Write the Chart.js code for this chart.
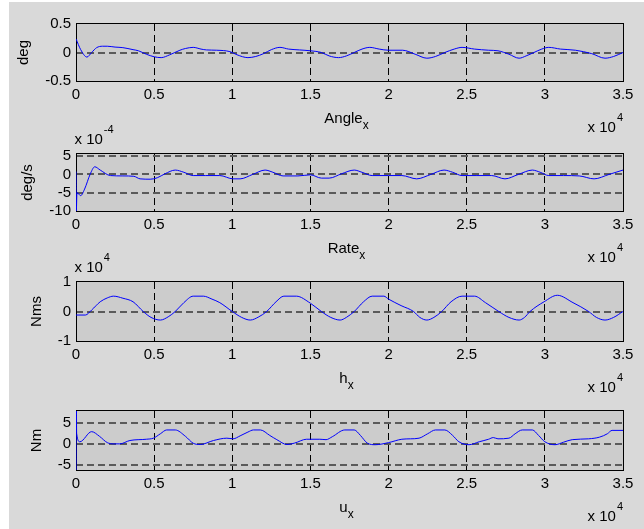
<!DOCTYPE html>
<html>
<head>
<meta charset="utf-8">
<title>Angle / Rate / h / u</title>
<script src="https://cdn.jsdelivr.net/npm/chart.js@4.4.1/dist/chart.umd.min.js"></script>
<style>
    html, body { margin: 0; padding: 0; background: #ffffff; }
    #fig { position: absolute; left: 9px; top: 2px; width: 635px; height: 527px; background: #d9d9d9; }
    canvas { position: absolute; left: 0; top: 0; }
</style>
</head>
<body>
<div id="fig"></div>
<canvas id="cAngle" width="644" height="529"></canvas>
<canvas id="cRate" width="644" height="529"></canvas>
<canvas id="cH" width="644" height="529"></canvas>
<canvas id="cU" width="644" height="529"></canvas>

<script>
// =================================================================
// DATA (time in s, axis shows x 10^4)
// =================================================================
const xTicks = [0, 5000, 10000, 15000, 20000, 25000, 30000, 35000];

// Angle_x [deg]
const angleT = [0, 300, 700, 1000, 1320, 1700, 2000, 2500, 3000, 3650, 4000, 4500, 5000, 5450,
    6000, 6650, 7000, 7500, 8000, 8350, 9000, 9850, 10300, 11000, 11500, 12000, 12500, 13050,
    13600, 14300, 15000, 15700, 16200, 16800, 17300, 17800, 18300, 18800, 19400, 20000, 20900,
    21700, 22450, 23000, 23600, 24200, 24700, 25500, 26400, 27000, 27700, 28350, 28800, 29300,
    29800, 30250, 31000, 31950, 33000, 33850, 34400, 35000];
const angleDeg = [0.24, 0.05, -0.08, 0.0, 0.085, 0.11, 0.11, 0.095, 0.085, 0.05, 0.03, -0.03, -0.075, -0.09,
    -0.04, 0.04, 0.07, 0.09, 0.06, 0.045, 0.04, 0.015, -0.04, -0.09, -0.07, -0.02, 0.05, 0.09,
    0.06, 0.045, 0.03, 0.0, -0.06, -0.09, -0.06, 0.0, 0.06, 0.09, 0.06, 0.04, 0.04,
    -0.03, -0.1, -0.07, 0.0, 0.06, 0.09, 0.06, 0.04, 0.03, -0.03, -0.1, -0.06, 0.0,
    0.06, 0.09, 0.06, 0.04, -0.02, -0.1, -0.07, 0.0];

// Rate_x [deg/s] x 10^-4
const rateT = [0, 20, 60, 300, 550, 900, 1200, 1550, 2200, 3000, 3700, 4100, 4750, 5200, 5700,
    6350, 6900, 7500, 8300, 9200, 10050, 10500, 11300, 12100, 12600, 13250, 14200, 15000, 15700,
    16200, 17000, 17800, 18300, 18950, 20000, 20850, 21800, 22700, 23550, 24100, 24700, 25600,
    26600, 27450, 28300, 29200, 29700, 30250, 31200, 32200, 33150, 34100, 35000];
const rateVal = [0.8, -10, -5, -5.8, -4, 0, 2.1, 1.2, -0.3, -0.4, -0.5, -1.2, -1.3, -0.9, 0.2,
    1.2, 0.6, -0.3, -0.3, -0.3, -1.2, -1.2, 0.0, 1.2, 0.6, -0.4, -0.4, -0.1, -1.0,
    -1.0, 0.2, 1.2, 0.6, -0.3, -0.3, -0.3, -1.2, 0.0, 1.2, 0.6, -0.3, -0.3,
    -0.3, -1.2, 0.0, 1.2, 0.6, -0.3, -0.3, -0.4, -1.2, 0.0, 1.2];

// h_x [Nms] x 10^4
const hT = [0, 600, 1000, 1550, 2000, 2400, 3000, 3650, 4300, 4800, 5400, 5900, 6350, 6900, 7500,
    8150, 8700, 9200, 10000, 10600, 11150, 11700, 12200, 12800, 13300, 14100, 15000, 15700, 16300,
    16900, 17300, 17800, 18400, 18950, 19700, 20000, 20800, 21600, 22000, 22450, 22900, 23400,
    24000, 24700, 25500, 26200, 27050, 27700, 28350, 28700, 29050, 29950, 30800, 31800, 32800,
    33300, 33850, 34400, 35000];
const hVal = [-0.12, -0.12, 0.05, 0.33, 0.46, 0.52, 0.45, 0.33, 0.0, -0.2, -0.29, -0.18, 0.0, 0.3, 0.52,
    0.52, 0.42, 0.3, 0.0, -0.2, -0.29, -0.18, 0.0, 0.33, 0.52, 0.52, 0.28, 0.0, -0.2,
    -0.29, -0.2, 0.0, 0.33, 0.52, 0.52, 0.42, 0.2, 0.0, -0.2, -0.29, -0.2, 0.0,
    0.33, 0.52, 0.52, 0.3, 0.0, -0.2, -0.29, -0.2, 0.0, 0.33, 0.55, 0.3, 0.0,
    -0.2, -0.29, -0.2, 0.0];

// u_x [Nm]
const uT = [0, 15, 40, 250, 1000, 1500, 2000, 2400, 2800, 3450, 4500, 4950, 5400, 5800, 6350,
    7000, 7500, 7950, 8800, 9650, 10050, 10500, 11000, 11350, 11800, 12400, 12850, 13500, 14000,
    14750, 15600, 16000, 16400, 17200, 17800, 18200, 18650, 19150, 20000, 20850, 21400, 21950,
    22500, 23000, 23600, 24100, 24500, 25150, 25800, 26400, 26700, 27000, 27700, 28100, 28550,
    29200, 29600, 30000, 30650, 31200, 31750, 32800, 33500, 34000, 34300, 35000];
const uVal = [-20, 20, 2.5, 0.5, 2.9, 1.8, 0.3, 0.0, 0.0, 0.8, 1.1, 1.35, 2.4, 3.3, 3.3,
    1.8, 0.15, -0.15, 0.8, 1.35, 1.2, 1.9, 2.8, 3.3, 3.3, 2.0, 1.0, -0.15, 0.2,
    1.1, 1.1, 1.0, 1.7, 3.3, 3.3, 2.0, 0.15, -0.2, 0.3, 1.1, 1.2, 1.35,
    2.4, 3.3, 3.3, 2.0, 0.5, -0.2, 0.5, 1.1, 1.5, 1.2, 1.35, 2.4, 3.3,
    3.3, 2.0, 0.5, -0.2, 0.4, 1.0, 1.2, 1.6, 2.4, 3.2, 3.2];

// tick label per subplot
const angleTicks = [-0.5, 0, 0.5];
const rateTicks = [-10, -5, 0, 5];
const hTicks = [-1, 0, 1];
const uTicks = [-5, 0, 5];

// =================================================================
// STYLE ALA MATLAB
// =================================================================
const FONT = '"Liberation Sans", Arial, sans-serif';
const FS = 15;
Chart.defaults.font.family = FONT;
Chart.defaults.font.size = FS;
Chart.defaults.color = '#000000';

const AXES_BG = '#cccccc';

// grid line on the box edge is hidden (box is drawn there)
function warnaGrid(warna) {
    return c => {
        const s = c.scale;
        if (!c.tick) return warna;
        return (c.tick.value <= s.min || c.tick.value >= s.max) ? 'rgba(0,0,0,0)' : warna;
    };
}

// background, box, axis label + exponent
const matlabLook = {
    id: 'matlabLook',
    beforeDraw(chart) {
        const { ctx, chartArea: a } = chart;
        ctx.save();
        ctx.fillStyle = AXES_BG;
        ctx.fillRect(a.left, a.top, a.right - a.left, a.bottom - a.top);
        ctx.restore();
    },
    beforeDatasetsDraw(chart) {
        const { ctx, chartArea: a } = chart;
        ctx.save();
        ctx.strokeStyle = '#000000';
        ctx.lineWidth = 1;
        ctx.strokeRect(Math.round(a.left) + 0.5, Math.round(a.top) - 0.5,
            Math.round(a.right - a.left), Math.round(a.bottom - a.top) + 1);
        ctx.restore();
    },
    afterDraw(chart, args, o) {
        const { ctx, chartArea: a } = chart;
        const fMain = FS + 'px ' + FONT, fSub = '12px ' + FONT, fSup = '11px ' + FONT;
        ctx.save();
        ctx.fillStyle = '#000000';

        // ylabel, left of widest tick label
        ctx.font = fMain;
        let wMax = 0;
        chart.scales.y.ticks.forEach(t => {
            wMax = Math.max(wMax, ctx.measureText(String(t.value)).width);
        });
        ctx.save();
        ctx.translate(a.left - 5 - wMax - 21, (a.top + a.bottom) / 2);
        ctx.rotate(-Math.PI / 2);
        ctx.textAlign = 'center';
        ctx.textBaseline = 'middle';
        ctx.fillText(o.ylabel, 0, 0);
        ctx.restore();

        // xlabel with subscript
        ctx.textAlign = 'left';
        ctx.textBaseline = 'alphabetic';
        const w1 = ctx.measureText(o.xlabel).width;
        ctx.font = fSub;
        const w2 = ctx.measureText(o.xsub).width;
        const x0 = (a.left + a.right) / 2 - 3 - (w1 + w2) / 2;
        const base = a.bottom + 42;
        ctx.font = fMain;
        ctx.fillText(o.xlabel, x0, base);
        ctx.font = fSub;
        ctx.fillText(o.xsub, x0 + w1, base + 6);

        // x 10^4 (x axis), bottom right
        ctx.font = fSup;
        const wSup = ctx.measureText(o.xExp).width;
        ctx.font = fMain;
        const wX = ctx.measureText('x 10').width;
        const xe = a.right - wSup - wX - 1;
        ctx.fillText('x 10', xe, a.bottom + 51);
        ctx.font = fSup;
        ctx.fillText(o.xExp, xe + wX + 1, a.bottom + 40);

        // y exponent, top left
        if (o.yExp) {
            ctx.font = fMain;
            const wY = ctx.measureText('x 10').width;
            const ye = a.left - 1.5;
            ctx.fillText('x 10', ye, a.top - 10.5);
            ctx.font = fSup;
            ctx.fillText(o.yExp, ye + wY + 1, a.top - 21.5);
        }
        ctx.restore();
    }
};

// =================================================================
// SUBPLOT BUILDER
// =================================================================
function buatSubplot(id, t, vals, yMin, yMax, yTicks, labels, plotTop, plotBottom) {
    const XH = 30;
    const ctx = document.getElementById(id).getContext('2d');
    return new Chart(ctx, {
        type: 'line',
        data: {
            datasets: [{
                data: t.map((x, i) => ({ x: x, y: vals[i] })),
                borderColor: '#0000ff',
                borderWidth: 1,
                pointRadius: 0,
                fill: false,
                cubicInterpolationMode: 'monotone'
            }]
        },
        options: {
            responsive: false,
            animation: false,
            events: [],
            layout: {
                padding: { left: 0, right: 644 - 623, top: plotTop, bottom: 529 - plotBottom - XH }
            },
            scales: {
                x: {
                    type: 'linear',
                    min: 0,
                    max: 35000,
                    afterBuildTicks: s => { s.ticks = xTicks.map(v => ({ value: v })); },
                    afterFit: s => { s.height = XH; },
                    ticks: { padding: 5, maxRotation: 0, autoSkip: false, callback: v => String(v / 1e4) },
                    grid: { color: warnaGrid('#000000'), lineWidth: 1, drawTicks: false },
                    border: { display: false, dash: [7, 4] }
                },
                y: {
                    min: yMin,
                    max: yMax,
                    afterBuildTicks: s => { s.ticks = yTicks.map(v => ({ value: v })); },
                    afterFit: s => { s.width = 76; },
                    ticks: { padding: 5, autoSkip: false, callback: v => String(v) },
                    grid: { color: warnaGrid('#5a5a5a'), lineWidth: 2, drawTicks: false },
                    border: { display: false, dash: [7, 4] }
                }
            },
            plugins: {
                legend: { display: false },
                tooltip: { enabled: false },
                matlabLook: labels
            }
        },
        plugins: [matlabLook]
    });
}

buatSubplot('cAngle', angleT, angleDeg, -0.5, 0.5, angleTicks,
    { ylabel: 'deg', xlabel: 'Angle', xsub: 'x', xExp: '4', yExp: null }, 24, 81);
buatSubplot('cRate', rateT, rateVal, -10, 5.6, rateTicks,
    { ylabel: 'deg/s', xlabel: 'Rate', xsub: 'x', xExp: '4', yExp: '-4' }, 154, 211);
buatSubplot('cH', hT, hVal, -1, 1, hTicks,
    { ylabel: 'Nms', xlabel: 'h', xsub: 'x', xExp: '4', yExp: '4' }, 282, 341);
buatSubplot('cU', uT, uVal, -6.2, 7.8, uTicks,
    { ylabel: 'Nm', xlabel: 'u', xsub: 'x', xExp: '4', yExp: null }, 411, 470);
</script>
</body>
</html>
